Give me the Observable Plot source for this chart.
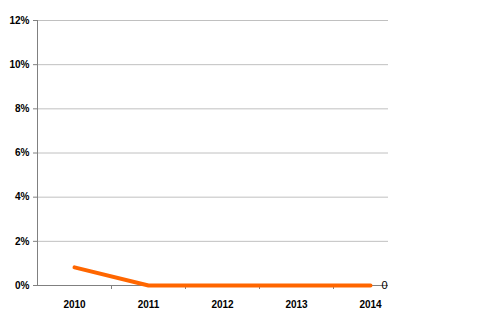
<!DOCTYPE html>
<html><head><meta charset="utf-8">
<script src="https://cdn.jsdelivr.net/npm/d3@7"></script>
<script src="https://cdn.jsdelivr.net/npm/@observablehq/plot@0.6"></script>
<style>body{margin:0;background:#fff}</style>
</head><body><div id="chart"></div>
<script>
const years = [2010, 2011, 2012, 2013, 2014];
const values = [0.0082, 0, 0, 0, 0];
const yTicks = [0, 0.02, 0.04, 0.06, 0.08, 0.10, 0.12];
const lastLabel = "0";

const data = years.map((y, i) => ({year: y, value: values[i]}));
const bounds = years.slice(0, -1).map(y => y + 0.5);

const chart = Plot.plot({
  width: 488, height: 323,
  marginLeft: 37, marginRight: 100, marginTop: 20, marginBottom: 38,
  style: {fontFamily: "'Liberation Sans', Arial, sans-serif", fontSize: "10px", fontWeight: "bold", color: "#000", background: "#fff"},
  x: {type: "linear", domain: [2009.5, 2014.5], range: [37, 407], axis: null},
  y: {type: "linear", domain: [0, 0.12], axis: null},
  marks: [
    Plot.ruleY(yTicks.filter(d => d > 0), {stroke: "#c0c0c0", strokeWidth: 1}),
    Plot.ruleY([0], {stroke: "#808080", strokeWidth: 1}),
    Plot.ruleX([2009.5], {stroke: "#808080", strokeWidth: 1}),
    Plot.axisY({ticks: yTicks, tickFormat: d3.format(".0%"), tickSize: 4, tickPadding: 4, stroke: "#808080", fill: "#000", label: null}),
    Plot.ruleX(bounds, {y1: 0, y2: 0, insetBottom: -4, stroke: "#808080", strokeWidth: 1}),
    Plot.axisX({ticks: years, tickFormat: d => String(d), tickSize: 0, tickPadding: 15, fill: "#000", label: null}),
    Plot.line(data, {x: "year", y: "value", stroke: "#ff6600", strokeWidth: 4}),
    Plot.text([data[data.length - 1]], {x: "year", y: "value", text: () => lastLabel, dx: 14, fill: "#000", fontWeight: "normal", fontSize: 11})
  ]
});
document.getElementById("chart").appendChild(chart);
</script>
</body></html>
